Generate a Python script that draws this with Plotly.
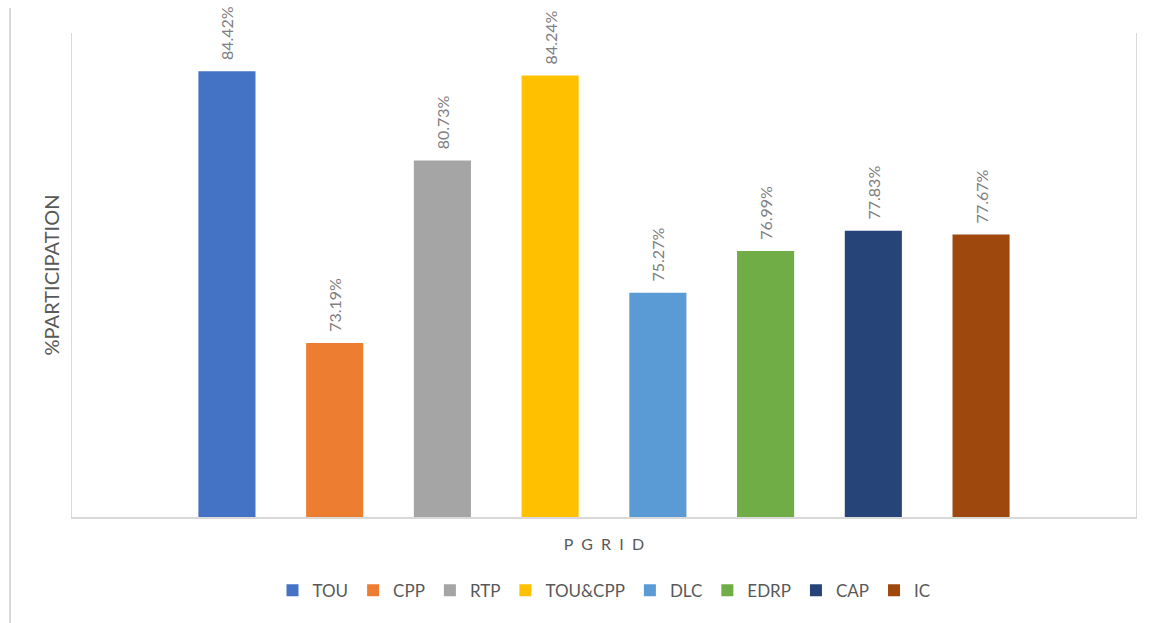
import plotly.graph_objects as go

categories = ["PGRID"]
series_names = ["TOU", "CPP", "RTP", "TOU&CPP", "DLC", "EDRP", "CAP", "IC"]
series_values = [84.42, 73.19, 80.73, 84.24, 75.27, 76.99, 77.83, 77.67]
series_colors = ["#4472C4", "#ED7D31", "#A5A5A5", "#FFC000",
                 "#5B9BD5", "#70AD47", "#264478", "#9E480E"]
category_tick_text = ["P\u00a0\u00a0G\u00a0\u00a0R\u00a0\u00a0I\u00a0\u00a0D"]

FONT = "Lato, 'Open Sans', sans-serif"

fig = go.Figure()
for name, val, col in zip(series_names, series_values, series_colors):
    fig.add_trace(go.Bar(
        x=categories, y=[val], name=name,
        marker=dict(color=col, line=dict(width=0)),
        text=[f"\u00a0\u00a0{val:g}%"], textposition="outside", textangle=-90,
        textfont=dict(family=FONT, size=16, color="#808080"),
        constraintext="none", cliponaxis=False,
    ))

fig.update_layout(
    width=1155, height=623,
    margin=dict(l=72, r=19, t=33, b=106, autoexpand=False),
    paper_bgcolor="white", plot_bgcolor="white",
    barmode="group", bargap=0.19, bargroupgap=0.47,
    font=dict(family=FONT, color="#595959"),
    showlegend=True,
    legend=dict(orientation="h", x=0.5, xanchor="center", y=-0.115, yanchor="top",
                font=dict(size=17, color="#595959"), traceorder="normal",
                itemwidth=30),
    xaxis=dict(
        tickvals=categories, ticktext=category_tick_text,
        tickfont=dict(size=16, color="#595959"), ticklabelstandoff=12,
        showline=True, linecolor="#d9d9d9", linewidth=2, mirror=False,
        showgrid=False, ticks="", automargin=False,
    ),
    yaxis=dict(
        range=[66, 86], showticklabels=False, ticks="", showgrid=False,
        zeroline=False, showline=True, linecolor="#d9d9d9", linewidth=1,
        mirror=True, automargin=False,
        title=dict(text="%PARTICIPATION", font=dict(size=20, color="#595959"), standoff=6),
    ),
    shapes=[
        dict(type="line", xref="paper", yref="paper",
             x0=-62/1064, x1=-62/1064, y0=(623-106-8)/484, y1=-106/484,
             line=dict(color="#d9d9d9", width=2)),
    ],
)

fig.write_html("out.html")
